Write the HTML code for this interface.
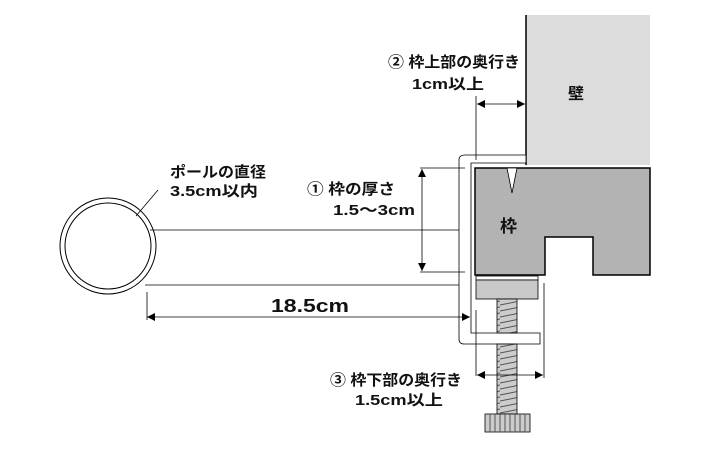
<!DOCTYPE html>
<html><head><meta charset="utf-8"><style>
body{margin:0;background:#fff}
text{font-family:"Liberation Sans","Noto Sans CJK JP",sans-serif;font-weight:bold;fill:#111}
</style></head><body>
<svg width="710" height="450" viewBox="0 0 710 450" xmlns="http://www.w3.org/2000/svg">
<defs>
<marker id="a" viewBox="0 0 10 10" refX="10" refY="5" markerWidth="10" markerHeight="8" orient="auto-start-reverse" markerUnits="userSpaceOnUse"><path d="M0,0L10,5L0,10z" fill="#000"/></marker>
<pattern id="th" width="20" height="6" patternUnits="userSpaceOnUse"><rect width="20" height="6" fill="#ccc"/><line x1="0" y1="5" x2="20" y2="1" stroke="#555" stroke-width="1"/></pattern>
</defs>
<rect x="526" y="15" width="124" height="150" fill="#dcdcdc"/>
<line x1="526" y1="15" x2="526" y2="165" stroke="#000" stroke-width="1.5"/>
<text x="568" y="99" font-size="16">壁</text>
<path d="M475,168H650V275H593V237H545V275H475Z" fill="#b3b3b3" stroke="#000" stroke-width="1.5"/>
<path d="M507,168L517,168L512,193Z" fill="#fff" stroke="#000" stroke-width="0.8"/>
<text x="500" y="232" font-size="17">枠</text>
<path d="M465,155H526V163H471V333H540V344H464Q459,344 459,339V160Q459,155 465,155Z" fill="#fff" stroke="#000" stroke-width="0.8"/>
<rect x="476" y="276" width="62" height="4" fill="#fff" stroke="#000" stroke-width="0.8"/>
<rect x="476" y="280" width="62" height="19" fill="#c8c8c8" stroke="#000" stroke-width="0.8"/>
<rect x="497" y="299" width="20" height="34" fill="url(#th)" stroke="#000" stroke-width="0.8"/>
<rect x="497" y="344" width="20" height="70" fill="url(#th)" stroke="#000" stroke-width="0.8"/>
<rect x="485" y="414" width="45" height="18" fill="#ccc" stroke="#000" stroke-width="0.8"/>
<g stroke="#555" stroke-width="1"><line x1="490" y1="414" x2="490" y2="432"/><line x1="495" y1="414" x2="495" y2="432"/><line x1="500" y1="414" x2="500" y2="432"/><line x1="505" y1="414" x2="505" y2="432"/><line x1="510" y1="414" x2="510" y2="432"/><line x1="515" y1="414" x2="515" y2="432"/><line x1="520" y1="414" x2="520" y2="432"/><line x1="525" y1="414" x2="525" y2="432"/></g>
<circle cx="108" cy="246" r="48" fill="#fff" stroke="#000" stroke-width="1"/>
<circle cx="108" cy="246" r="43" fill="#fff" stroke="#000" stroke-width="1"/>
<line x1="150" y1="230" x2="459" y2="230" stroke="#000" stroke-width="0.8"/>
<line x1="145" y1="285" x2="459" y2="285" stroke="#000" stroke-width="0.8"/>
<line x1="136" y1="216" x2="158" y2="190" stroke="#000" stroke-width="0.8"/>
<text x="170" y="177" font-size="15" textLength="96" lengthAdjust="spacingAndGlyphs">ポールの直径</text>
<text x="170" y="196" font-size="15" textLength="88" lengthAdjust="spacingAndGlyphs">3.5cm以内</text>
<line x1="147" y1="292" x2="147" y2="320" stroke="#000" stroke-width="0.8"/>
<line x1="147" y1="317" x2="470" y2="317" stroke="#000" stroke-width="0.8" marker-start="url(#a)" marker-end="url(#a)"/>
<text x="271" y="312" font-size="18" textLength="78" lengthAdjust="spacingAndGlyphs">18.5cm</text>
<line x1="420" y1="168" x2="465" y2="168" stroke="#000" stroke-width="0.8"/>
<line x1="420" y1="272" x2="465" y2="272" stroke="#000" stroke-width="0.8"/>
<line x1="422" y1="169" x2="422" y2="271" stroke="#000" stroke-width="0.8" marker-start="url(#a)" marker-end="url(#a)"/>
<text x="307" y="194" font-size="15" textLength="88" lengthAdjust="spacingAndGlyphs">① 枠の厚さ</text>
<text x="333" y="215" font-size="15" textLength="82" lengthAdjust="spacingAndGlyphs">1.5〜3cm</text>
<line x1="476" y1="96" x2="476" y2="160" stroke="#000" stroke-width="0.8"/>
<line x1="477" y1="104" x2="525" y2="104" stroke="#000" stroke-width="0.8" marker-start="url(#a)" marker-end="url(#a)"/>
<text x="388" y="67" font-size="15" textLength="132" lengthAdjust="spacingAndGlyphs">② 枠上部の奥行き</text>
<text x="412" y="89" font-size="15" textLength="72" lengthAdjust="spacingAndGlyphs">1cm以上</text>
<line x1="476" y1="310" x2="476" y2="376" stroke="#000" stroke-width="0.8"/>
<line x1="544" y1="283" x2="544" y2="378" stroke="#000" stroke-width="0.8"/>
<line x1="477" y1="375" x2="543" y2="375" stroke="#000" stroke-width="0.8" marker-start="url(#a)" marker-end="url(#a)"/>
<text x="330" y="385" font-size="15" textLength="132" lengthAdjust="spacingAndGlyphs">③ 枠下部の奥行き</text>
<text x="355" y="405" font-size="15" textLength="88" lengthAdjust="spacingAndGlyphs">1.5cm以上</text>
</svg>
</body></html>
